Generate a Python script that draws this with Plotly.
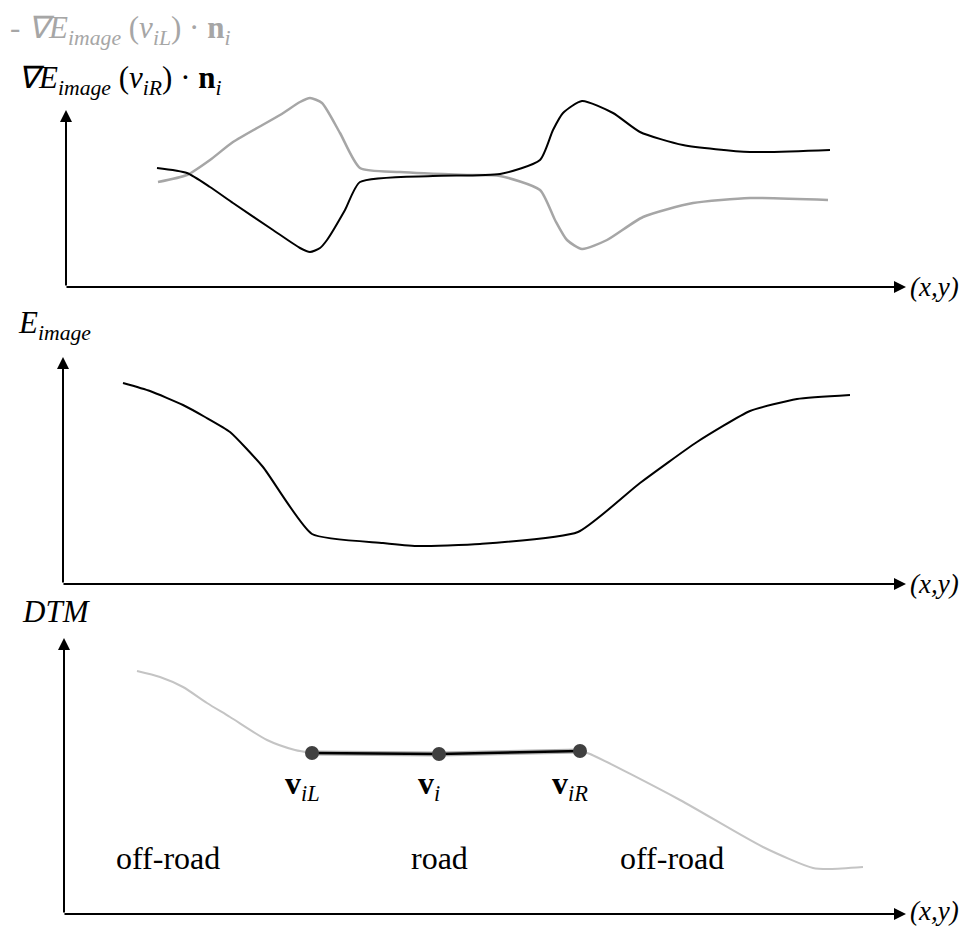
import plotly.graph_objects as go

FONT = "Liberation Serif"
GRIS = "#a6a6a6"

# posición a lo largo del perfil (x,y), común a los tres paneles
# panel 1: gradiente de la energía imagen en v_iR (negro) y -gradiente en v_iL (gris)
grad_r_pos = [157, 187, 210, 233, 273, 300, 310, 320, 327, 345, 360, 433, 500, 540, 553, 563, 582, 613, 640, 683, 750, 830]
grad_r_val = [119, 114, 100, 84, 57, 39, 35, 39, 47, 77, 105, 111, 113, 127, 157, 174, 186, 174, 155, 142, 135, 137]
grad_l_pos = [158, 187, 210, 233, 280, 300, 310, 322, 340, 360, 400, 467, 500, 540, 555, 567, 582, 607, 643, 693, 750, 828]
grad_l_val = [105, 112, 127, 145, 172, 185, 189, 184, 154, 119, 115, 112, 111, 97, 67, 47, 38, 47, 70, 84, 89, 87]

# panel 2: energía imagen
e_pos = [123, 150, 183, 205, 230, 263, 312, 383, 417, 480, 578, 640, 697, 750, 797, 850]
e_val = [201, 193, 179, 167, 152, 117, 50, 41, 38, 40, 52, 101, 142, 173, 185, 189]

# panel 3: modelo digital del terreno
dtm_izq_pos = [137, 160, 183, 207, 230, 267, 295, 312]
dtm_izq_val = [243, 237, 227, 211, 197, 174, 164, 161]
dtm_der_pos = [580, 590, 680, 763, 813, 830, 863]
dtm_der_val = [163, 160, 114, 67, 46, 45, 47]
nodos_pos = [312, 439, 580]
nodos_val = [161, 160, 163]
nodos_txt = ["<b>v</b><sub><i>iL</i></sub>", "<b>v</b><sub><i>i</i></sub>", "<b>v</b><sub><i>iR</i></sub>"]
zonas_txt = ["off-road", "road", "off-road"]
zonas_pos = [168, 439, 672]

fig = go.Figure()

# panel 1
fig.add_trace(go.Scatter(x=grad_l_pos, y=grad_l_val, mode="lines", yaxis="y",
                         line=dict(color=GRIS, width=2.5, shape="spline", smoothing=0.6)))
fig.add_trace(go.Scatter(x=grad_r_pos, y=grad_r_val, mode="lines", yaxis="y",
                         line=dict(color="black", width=2, shape="spline", smoothing=0.6)))
# panel 2
fig.add_trace(go.Scatter(x=e_pos, y=e_val, mode="lines", yaxis="y2",
                         line=dict(color="black", width=2, shape="spline", smoothing=0.5)))
# panel 3
for px, py in [(dtm_izq_pos, dtm_izq_val), (dtm_der_pos, dtm_der_val)]:
    fig.add_trace(go.Scatter(x=px, y=py, mode="lines", yaxis="y3",
                             line=dict(color="#c4c4c4", width=2, shape="spline", smoothing=0.7)))
fig.add_trace(go.Scatter(x=nodos_pos, y=nodos_val, mode="lines", yaxis="y3",
                         line=dict(color="#b0b0b0", width=5)))
fig.add_trace(go.Scatter(x=nodos_pos, y=nodos_val, mode="lines+markers", yaxis="y3",
                         line=dict(color="black", width=2.5),
                         marker=dict(color="#404040", size=14)))

anots = []

def flecha(yref, x0, y0, x1, y1):
    anots.append(dict(x=x1, y=y1, ax=x0, ay=y0, xref="x", yref=yref, axref="x", ayref=yref,
                      text="", showarrow=True, arrowhead=2, arrowsize=1.2, arrowwidth=2,
                      arrowcolor="black", standoff=0, startstandoff=0))

def texto(yref, x, y, t, size, color="black", xanchor="left"):
    anots.append(dict(x=x, y=y, xref="x", yref=yref, text=t, showarrow=False,
                      xanchor=xanchor, yanchor="middle",
                      font=dict(family=FONT, size=size, color=color)))

# ejes con flechas: (ref, origen x, punta y)
for yref, ox, ytop in [("y", 66, 177), ("y2", 63, 227), ("y3", 64, 276)]:
    flecha(yref, ox, 0, ox, ytop)
    flecha(yref, ox - 1, 0, 906, 0)
    texto(yref, 908, 3 if yref == "y3" else 0, "<i>(x,y)</i>", 27)

texto("y", 8, 257, "- <i>∇E</i><sub><i>image</i></sub> (<i>v</i><sub><i>iL</i></sub>) · <b>n</b><sub><i>i</i></sub>", 31, GRIS)
texto("y", 16, 207, "<i>∇E</i><sub><i>image</i></sub> (<i>v</i><sub><i>iR</i></sub>) · <b>n</b><sub><i>i</i></sub>", 31)
texto("y2", 16, 259, "<i>E</i><sub><i>image</i></sub>", 31)
texto("y3", 20, 303, "<i>DTM</i>", 31)

for x, t in zip(nodos_pos, nodos_txt):
    texto("y3", x - 10, 129, t, 32, xanchor="center")
for x, t in zip(zonas_pos, zonas_txt):
    texto("y3", x, 56, t, 32, xanchor="center")

# la página añade 8 px de margen: la figura se dibuja desplazada (8, 8)
ejes = dict(visible=False, showgrid=False, zeroline=False, fixedrange=True)
fig.update_layout(
    width=962, height=918,
    margin=dict(l=0, r=0, t=0, b=0),
    paper_bgcolor="white", plot_bgcolor="white",
    showlegend=False,
    xaxis=dict(range=[8, 970], domain=[0, 1], **ejes),
    yaxis=dict(range=[-23, 279], domain=[1 - 302 / 918, 1], anchor="x", **ejes),
    yaxis2=dict(range=[-16, 274], domain=[1 - 592 / 918, 1 - 302 / 918], anchor="x", **ejes),
    yaxis3=dict(range=[-12, 314], domain=[0, 1 - 592 / 918], anchor="x", **ejes),
    annotations=anots,
)

fig.write_html("out.html")
